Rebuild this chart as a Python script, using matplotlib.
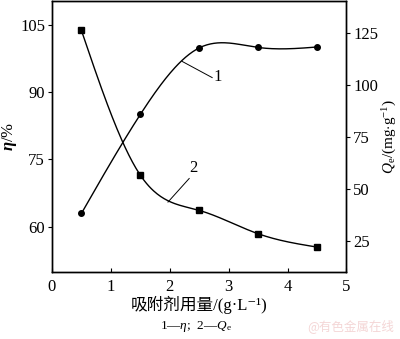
import matplotlib
matplotlib.use("Agg")
import matplotlib.pyplot as plt
import numpy as np

plt.rcParams["font.family"] = ["Liberation Serif", "Noto Sans CJK SC", "DejaVu Sans"]
plt.rcParams["mathtext.fontset"] = "custom"
plt.rcParams["mathtext.it"] = "Liberation Serif:italic"
plt.rcParams["mathtext.rm"] = "Liberation Serif"
plt.rcParams["mathtext.bf"] = "Liberation Serif:bold:italic"

dose = [0.5, 1.5, 2.5, 3.5, 4.5]
eta = [63.0, 85.0, 99.8, 99.9, 100.0]
qe = [126.0, 56.6, 39.7, 28.5, 22.1]

x_ticks = [0, 1, 2, 3, 4, 5]
eta_ticks = [60, 75, 90, 105]
qe_ticks = [25, 50, 75, 100, 125]


def smooth(x, y, n=200):
    # natural cubic spline, only used to draw the connecting curve
    x = np.asarray(x, float)
    y = np.asarray(y, float)
    k = len(x)
    h = np.diff(x)
    a = np.zeros((k, k))
    b = np.zeros(k)
    a[0, 0] = a[-1, -1] = 1
    for i in range(1, k - 1):
        a[i, i - 1] = h[i - 1]
        a[i, i] = 2 * (h[i - 1] + h[i])
        a[i, i + 1] = h[i]
        b[i] = 3 * ((y[i + 1] - y[i]) / h[i] - (y[i] - y[i - 1]) / h[i - 1])
    c = np.linalg.solve(a, b)
    xs = np.linspace(x[0], x[-1], n)
    idx = np.clip(np.searchsorted(x, xs) - 1, 0, k - 2)
    dx = xs - x[idx]
    bb = (y[idx + 1] - y[idx]) / h[idx] - h[idx] * (2 * c[idx] + c[idx + 1]) / 3
    dd = (c[idx + 1] - c[idx]) / (3 * h[idx])
    return xs, y[idx] + bb * dx + c[idx] * dx ** 2 + dd * dx ** 3


fig = plt.figure(figsize=(4.0, 3.39), dpi=100)
ax = fig.add_axes([0.13, 0.198, 0.736, 0.80])
ax2 = ax.twinx()

xs, ys = smooth(dose, eta)
ax.plot(xs, ys, color="black", linewidth=1.0)
ax.plot(dose, eta, "o", color="black", markersize=4)
xs, ys = smooth(dose, qe)
ax2.plot(xs, ys, color="black", linewidth=1.0)
ax2.plot(dose, qe, "s", color="black", markersize=4)

ax.set_xlim(0, 5)
ax.set_ylim(50, 110.3)
ax2.set_ylim(10.2, 140.3)
ax.set_xticks(x_ticks)
ax.set_yticks(eta_ticks)
ax2.set_yticks(qe_ticks)

ax.tick_params(axis="x", direction="in", length=3, labelsize=12, pad=5)
ax.tick_params(axis="y", direction="out", length=3, labelsize=12, pad=2)
ax2.tick_params(axis="y", direction="out", length=3, labelsize=12, pad=2)
for a in (ax, ax2):
    for s in a.spines.values():
        s.set_linewidth(1.0)

ax.set_ylabel(r"$\mathbf{\eta}$/%", fontsize=12, labelpad=1)
ax2.set_ylabel(r"$Q_\mathrm{e}$/(mg$\cdot$g$^{-1}$)", fontsize=11, labelpad=2)
ax.set_xlabel("吸附剂用量/(g·L⁻¹)", fontsize=12, labelpad=1)

# curve labels with leader lines
ax.plot([2.21, 2.72], [96.8, 93.2], color="black", linewidth=0.7)
ax.text(2.74, 93.3, "1", fontsize=12, va="center", ha="left")
ax2.plot([1.97, 2.33], [43.7, 55.0], color="black", linewidth=0.7)
ax2.text(2.33, 56.0, "2", fontsize=12, va="bottom", ha="left")

fig.text(0.49, 0.038, r"1—$\eta$;  2—$Q_\mathrm{e}$", fontsize=9.5, ha="center", va="center")
fig.text(0.985, 0.038, "@有色金属在线", fontsize=9, ha="right", va="center",
         color="#f4d6d6", family=["Noto Sans CJK SC", "DejaVu Sans"])

fig.savefig("out.png", dpi=100)
